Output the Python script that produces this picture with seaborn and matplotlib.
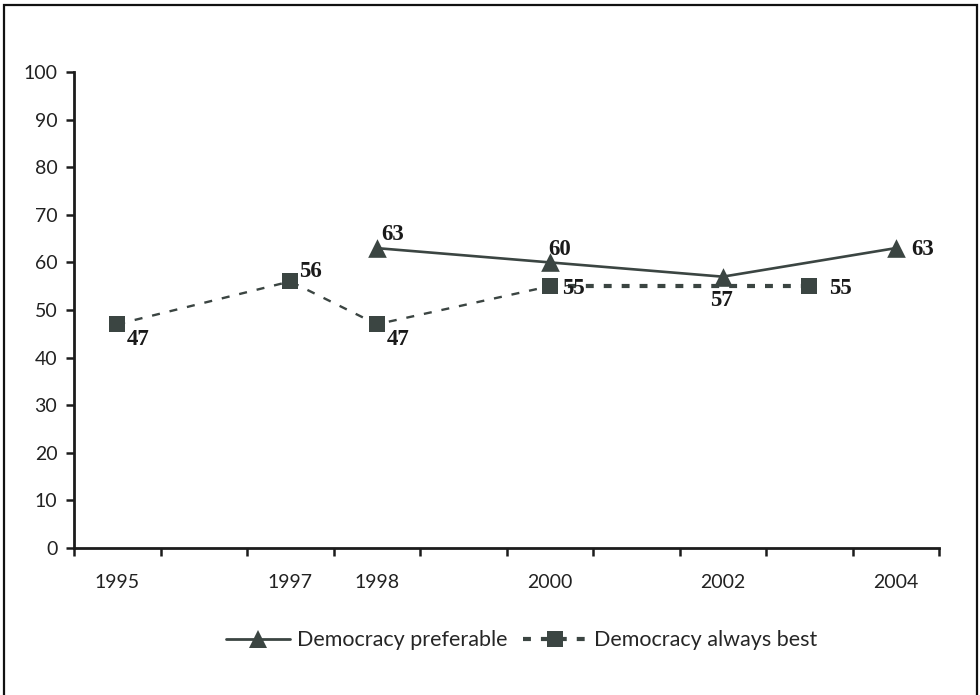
import matplotlib
matplotlib.use("Agg")
import matplotlib.pyplot as plt
from matplotlib.lines import Line2D
from matplotlib.patches import Rectangle
import numpy as np
import pandas as pd
import seaborn as sns

# Survey years and shares (%)
pref_years = [1998, 2000, 2002, 2004]
pref_values = [63, 60, 57, 63]

best_years = [1995, 1997, 1998, 2000, 2003]
best_values = [47, 56, 47, 55, 55]

tick_years = [1995, 1997, 1998, 2000, 2002, 2004]
y_ticks = list(range(0, 101, 10))

pref_name = "Democracy preferable"
best_name = "Democracy always best"

sns.set_theme(style="white")
plt.rcParams["font.family"] = ["Lato", "DejaVu Sans"]

ink = "#3b4542"
axis_col = "#1c1c1c"

pref = pd.DataFrame({"year": pref_years, "share": pref_values})
best = pd.DataFrame({"year": best_years, "share": best_values})
best_early = best[best["year"] <= 2000]
best_late = best[best["year"] >= 2000]

fig = plt.figure(figsize=(9.8, 6.95), dpi=100)
ax = fig.add_axes([74 / 980, 1 - 548 / 695, (939 - 74) / 980, (548 - 72) / 695])

# "always best": finer dashes up to 2000, heavier dashes afterwards
sns.lineplot(data=best_early, x="year", y="share", ax=ax, color=ink,
             linewidth=1.7, linestyle=(0, (3.4, 4.2)), zorder=2)
sns.lineplot(data=best_late, x="year", y="share", ax=ax, color=ink,
             linewidth=3.0, linestyle=(0, (1.9, 2.4)), zorder=2)
sns.scatterplot(data=best, x="year", y="share", ax=ax, color=ink,
                marker="s", s=135, linewidth=0, zorder=3)

sns.lineplot(data=pref, x="year", y="share", ax=ax, color=ink,
             linewidth=1.9, zorder=2)
sns.scatterplot(data=pref, x="year", y="share", ax=ax, color=ink,
                marker="^", s=180, linewidth=0, zorder=3)

# value labels
label_font = dict(family=["Liberation Serif", "DejaVu Serif"], weight="bold",
                  fontsize=16.5, color="#1a1a1a")
best_offsets = {1995: (7, -11, "left", "center"),
                1997: (6, 7, "left", "center"),
                1998: (7, -11, "left", "center"),
                2000: (9, -2, "left", "center"),
                2003: (14, -2, "left", "center")}
pref_offsets = {1998: (3, 10, "left", "center"),
                2000: (-1, 9, "left", "center"),
                2002: (-1, -17, "center", "center"),
                2004: (11, -1, "left", "center")}
for yr, v in zip(best_years, best_values):
    dx, dy, ha, va = best_offsets[yr]
    ax.annotate(str(v), (yr, v), xytext=(dx, dy), textcoords="offset points",
                ha=ha, va=va, zorder=4, **label_font)
for yr, v in zip(pref_years, pref_values):
    dx, dy, ha, va = pref_offsets[yr]
    ax.annotate(str(v), (yr, v), xytext=(dx, dy), textcoords="offset points",
                ha=ha, va=va, zorder=4, **label_font)

# axes
ax.set_xlim(1994.5, 2004.5)
ax.set_ylim(0, 100)
ax.set_xticks(tick_years)
ax.set_xticklabels([str(y) for y in tick_years])
ax.set_xticks(np.arange(1994.5, 2005, 1.0), minor=True)
ax.set_yticks(y_ticks)
ax.set_yticklabels([str(v) for v in y_ticks])
ax.set_xlabel("")
ax.set_ylabel("")
ax.tick_params(axis="x", which="major", length=0, pad=19, labelsize=14,
               labelcolor="#222222")
ax.tick_params(axis="x", which="minor", length=6, width=1.8, direction="out",
               color=axis_col, bottom=True)
ax.tick_params(axis="y", which="major", length=6, width=1.8, direction="out",
               color=axis_col, left=True, pad=6, labelsize=14,
               labelcolor="#222222")
for side in ("top", "right"):
    ax.spines[side].set_visible(False)
for side in ("left", "bottom"):
    ax.spines[side].set_color(axis_col)
    ax.spines[side].set_linewidth(2.0)
ax.grid(False)
ax.patch.set_alpha(0)

handles = [
    Line2D([], [], color=ink, linewidth=2.0, marker="^", markersize=13,
           markeredgewidth=0),
    Line2D([], [], color=ink, linewidth=3.0, linestyle=(0, (1.9, 2.4)),
           marker="s", markersize=11, markeredgewidth=0),
]
fig.legend(handles, [pref_name, best_name], loc="center",
           bbox_to_anchor=(0.532, 0.079), ncol=2, frameon=False,
           fontsize=15.5, handlelength=3.0, columnspacing=0.7,
           handletextpad=0.3)

# outer frame
fig.patches.append(Rectangle((4 / 980, -0.02), 973 / 980, 1.02 - 5 / 695,
                             transform=fig.transFigure, fill=False,
                             edgecolor="#111111", linewidth=1.6))

fig.savefig("out.png", dpi=100, facecolor="white")
